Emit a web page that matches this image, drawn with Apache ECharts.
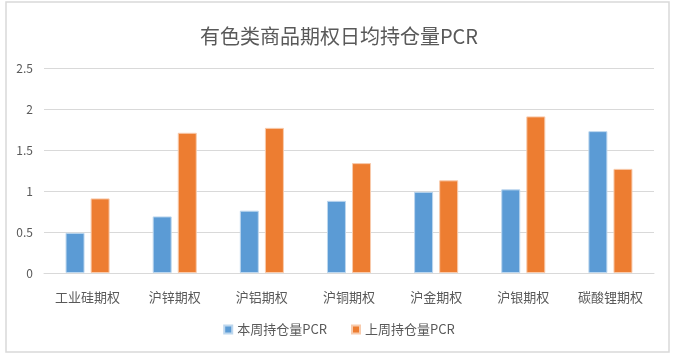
<!DOCTYPE html>
<html><head><meta charset="utf-8">
<script src="https://cdn.jsdelivr.net/npm/echarts@6/dist/echarts.min.js"></script>
<style>html,body{margin:0;padding:0;background:#fff}#c{width:678px;height:361px}</style>
</head><body><div id="c"></div>
<script>
const categories = ['工业硅期权','沪锌期权','沪铝期权','沪铜期权','沪金期权','沪银期权','碳酸锂期权'];
const thisWeek = [0.49, 0.69, 0.76, 0.88, 0.99, 1.02, 1.73];
const lastWeek = [0.91, 1.71, 1.77, 1.34, 1.13, 1.91, 1.27];
const seriesNames = ['本周持仓量PCR','上周持仓量PCR'];
const yTicks = [0, 0.5, 1, 1.5, 2, 2.5];

const font = '"Noto Sans CJK SC", "Noto Sans", sans-serif';
const chart = echarts.init(document.getElementById('c'));
chart.setOption({
  animation: false,
  backgroundColor: '#fff',
  graphic: [{type:'rect', shape:{x:6, y:2, width:663, height:350}, style:{fill:'none', stroke:'#D9D9D9', lineWidth:1.5}, silent:true}],
  title: {text:'有色类商品期权日均持仓量PCR', left:'center', top:21,
    textStyle:{fontFamily:font, fontSize:20, fontWeight:'normal', color:'#595959'}},
  legend: {data:seriesNames, bottom:20, left:'center', itemWidth:8, itemHeight:8, itemGap:24, icon:'rect',
    textStyle:{fontFamily:font, fontSize:13, color:'#595959'}},
  grid: {left:44, right:24, top:68, bottom:88},
  xAxis: {type:'category', data:categories,
    axisLine:{lineStyle:{color:'#D9D9D9', width:1}}, axisTick:{show:false},
    axisLabel:{fontFamily:font, fontSize:13, color:'#595959', margin:18}},
  yAxis: {type:'value', min:yTicks[0], max:yTicks[yTicks.length-1], interval:0.5,
    axisLine:{show:false}, axisTick:{show:false},
    splitLine:{lineStyle:{color:'#D9D9D9', width:1}},
    axisLabel:{fontFamily:font, fontSize:12, color:'#595959', margin:11, formatter: v => String(v)}},
  series: [
    {name:seriesNames[0], type:'bar', data:thisWeek, barWidth:19, barGap:'32%',
      itemStyle:{color:'#5B9BD5', borderColor:'#BDD7EE', borderWidth:1}},
    {name:seriesNames[1], type:'bar', data:lastWeek, barWidth:19,
      itemStyle:{color:'#ED7D31', borderColor:'#F8CBAD', borderWidth:1}}
  ]
});
</script></body></html>
